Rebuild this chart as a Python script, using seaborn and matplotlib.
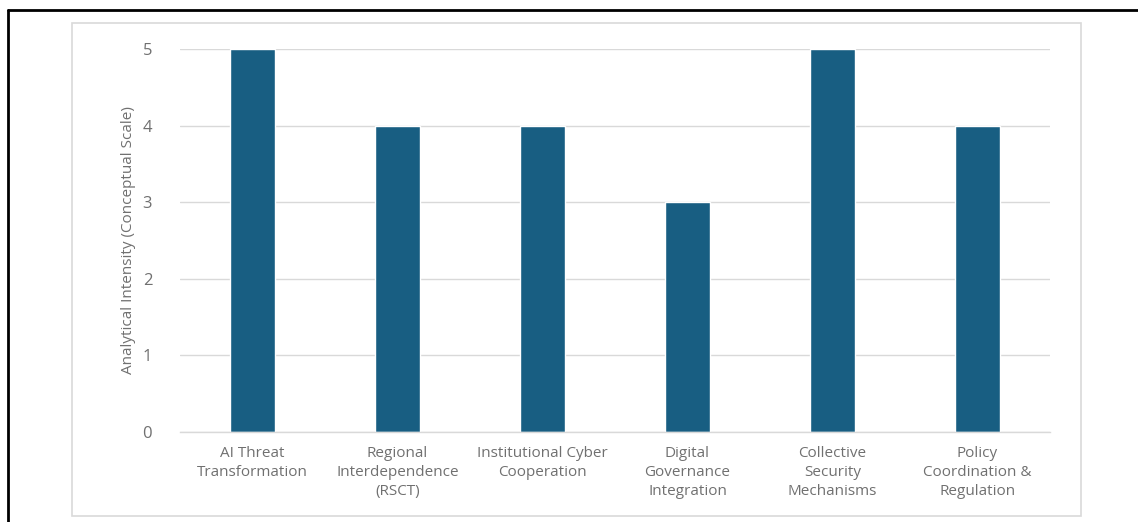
import matplotlib
matplotlib.use("Agg")
import matplotlib.pyplot as plt
import seaborn as sns
import pandas as pd
from matplotlib.patches import FancyBboxPatch
from matplotlib.lines import Line2D

categories = [
    "AI Threat\nTransformation",
    "Regional\nInterdependence\n(RSCT)",
    "Institutional Cyber\nCooperation",
    "Digital\nGovernance\nIntegration",
    "Collective\nSecurity\nMechanisms",
    "Policy\nCoordination &\nRegulation",
]
values = [5, 4, 4, 3, 5, 4]
y_ticks = [0, 1, 2, 3, 4, 5]
y_label = "Analytical Intensity (Conceptual Scale)"

sns.set_theme(style="white")
plt.rcParams['font.family'] = ['Open Sans', 'DejaVu Sans']

TXT = "#707070"
W, H = 1138, 522
fig = plt.figure(figsize=(W / 100, H / 100), dpi=100)
fig.patch.set_facecolor("white")

# outer document border
fig.add_artist(Line2D([8 / W, 1.0], [1 - 10 / H, 1 - 10 / H], transform=fig.transFigure,
                      color="black", lw=2, zorder=-2))
fig.add_artist(Line2D([8 / W, 8 / W], [0, 1 - 10 / H], transform=fig.transFigure,
                      color="black", lw=2, zorder=-2))
# chart frame
fig.add_artist(FancyBboxPatch((72 / W, 1 - 516 / H), (1081 - 72) / W, (516 - 23) / H,
                              boxstyle="square,pad=0", transform=fig.transFigure,
                              facecolor="white", edgecolor="#D9D9D9", lw=1.2, zorder=-1))

ax = fig.add_axes([180 / W, 1 - 432 / H, (1050 - 180) / W, (432 - 49) / H])
ax.set_zorder(1)
ax.patch.set_alpha(0)
df = pd.DataFrame({"cat": categories, "val": values})
sns.barplot(data=df, x="cat", y="val", color="#185E82", saturation=1, width=0.31, ax=ax)

ax.set_ylim(0, 5)
ax.set_yticks(y_ticks)
ax.set_xlim(-0.5, len(categories) - 0.5)
ax.yaxis.grid(True, color="#D9D9D9", lw=1)
ax.set_axisbelow(True)
for s in ["top", "right", "left"]:
    ax.spines[s].set_visible(False)
ax.spines["bottom"].set_color("#D9D9D9")
ax.spines["bottom"].set_linewidth(1)
for b in ax.patches:
    b.set_clip_on(False)
ax.tick_params(axis="both", length=0, colors=TXT)
ax.tick_params(axis="y", labelsize=12, pad=20)
ax.tick_params(axis="x", labelsize=11, pad=10)
for t in ax.get_xticklabels():
    t.set_linespacing(1.38)
ax.set_xlabel("")
ax.set_ylabel(y_label, fontsize=11, color=TXT, labelpad=5)

fig.savefig("out.png", dpi=100)
